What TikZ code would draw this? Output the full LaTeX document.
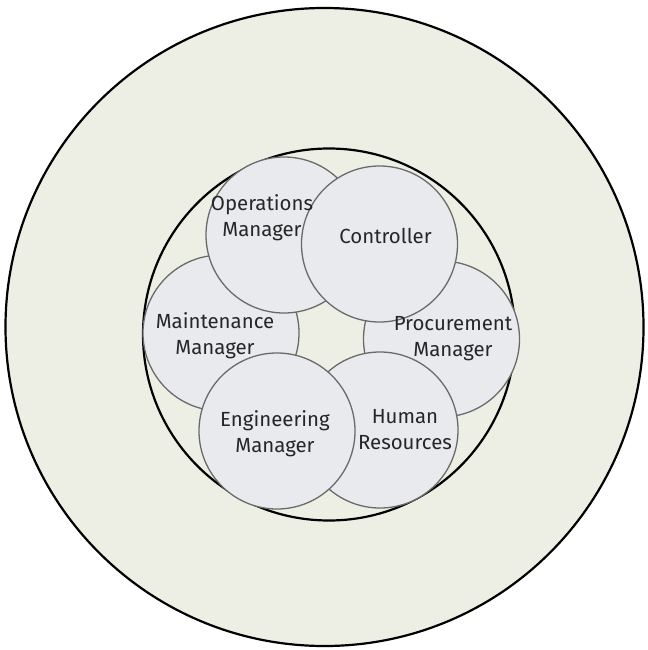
\documentclass[tikz,border=0pt]{standalone}
\usepackage{fontspec}
\setmainfont{Fira Sans}
\usetikzlibrary{calc}

\definecolor{paper}{HTML}{EEEFE4}
\definecolor{bubble}{HTML}{E8EAEE}
\definecolor{rim}{HTML}{6A6A6A}

\begin{document}
\begin{tikzpicture}[x=1bp,y=-1bp,
  bubble/.style={circle,draw=rim,fill=bubble,line width=1.3bp,minimum size=156bp,inner sep=0pt},
  ring/.style={circle,draw=black,line width=2.2bp,inner sep=0pt},
  lbl/.style={align=center,font=\fontsize{20.5}{26}\selectfont,text=black!85,inner sep=0pt}]

\useasboundingbox (0,0) rectangle (648,650);

\coordinate (O) at (324.5,327);
\coordinate (I) at (329,334.5);

\node[ring,fill=paper,minimum size=638bp] (outer) at (O) {};
\node[ring,fill=paper,minimum size=372bp] (inner) at (I) {};

\node[bubble] (maint) at (221,333) {};
\node[bubble] (proc) at (441.5,339) {};
\node[bubble] (ops) at (284,235) {};
\node[bubble] (ctrl) at (379.5,244) {};
\node[bubble] (hr) at (380,430) {};
\node[bubble] (eng) at (277,431) {};

\node[lbl] (opsText) at ($(ops)+(-22,-17)$) {Operations\\Manager};
\node[lbl] (ctrlText) at ($(ctrl)+(6,-8)$) {Controller};
\node[lbl] (maintText) at ($(maint)+(-6,3)$) {Maintenance\\Manager};
\node[lbl] (procText) at ($(proc)+(11.5,0)$) {Procurement\\Manager};
\node[lbl] (engText) at ($(eng)+(-2,2.5)$) {Engineering\\Manager};
\node[lbl] (hrText) at ($(hr)+(25,0)$) {Human\\Resources};

\end{tikzpicture}
\end{document}
